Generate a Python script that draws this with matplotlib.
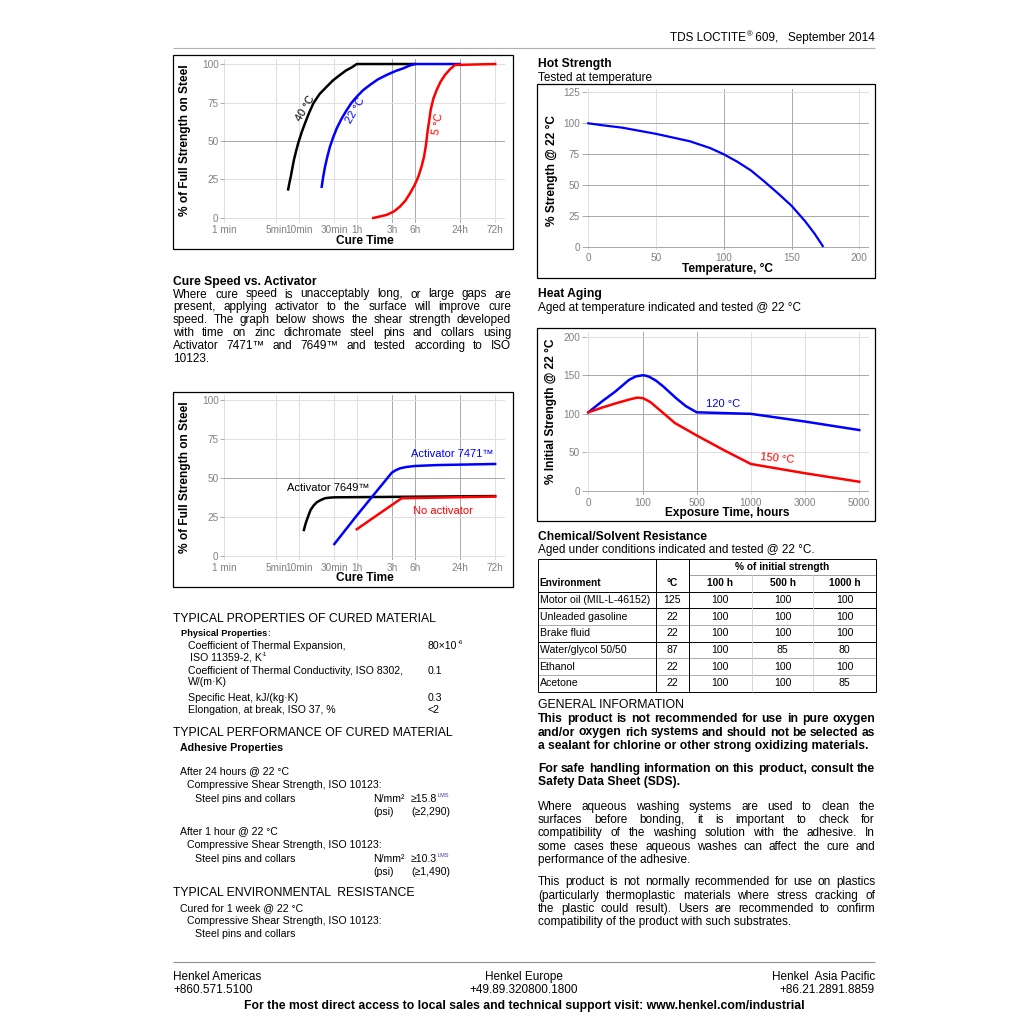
import numpy as np
import matplotlib
matplotlib.use('Agg')
import matplotlib.pyplot as plt
from matplotlib.patches import Rectangle

plt.rcParams['font.family'] = ['Liberation Sans', 'DejaVu Sans']

# ---------------- data ----------------
cure_ticks = [1, 5, 10, 30, 60, 180, 360, 1440, 4320]
cure_labels = ['1 min', '5min', '10min', '30min', '1h', '3h', '6h', '24h', '72h']
pct_ticks = [0, 25, 50, 75, 100]

# cure speed vs temperature (minutes, % strength)
t40 = [7.2, 7.5, 7.8, 8.2, 8.6, 9.2, 9.8, 10.9, 12.1, 13.8, 15.7, 19, 23.7, 29, 35.7, 43, 51.3, 60, 360]
s40 = [18.6, 23, 26.8, 32.5, 37.7, 43.5, 48.5, 55.5, 61.5, 68.5, 74.5, 80.5, 85.3, 89.5, 92.9, 95.8, 97.8, 100, 100]
t22 = [20.3, 21.3, 22.5, 24.2, 26.2, 29, 32.3, 37.5, 44, 51, 60, 73, 90, 115, 151, 200, 253, 300, 360, 1440]
s22 = [20.3, 27, 33.3, 40, 46.3, 52.5, 58.2, 64.5, 70.1, 74.8, 78.8, 83, 86.4, 90, 92.9, 95.5, 97.2, 98.8, 100, 100]
t5 = [100, 151, 190, 228, 270, 311, 360, 402, 445, 480, 510, 531, 560, 589, 640, 709, 800, 917, 1080, 1250, 4320]
s5 = [0, 2, 4.3, 7.4, 11.3, 16, 21.5, 26.8, 33.5, 39.8, 47.5, 55, 62.5, 70.1, 77.5, 83.1, 88.5, 92.9, 96.8, 99.4, 100]

# cure speed vs activator
t7649 = [11.7, 12.2, 12.8, 13.6, 14.4, 15.8, 17.4, 19.8, 22.5, 26, 30, 4320]
s7649 = [16.5, 19.8, 22.9, 26.3, 29.4, 32.2, 34.3, 35.8, 36.9, 37.3, 37.5, 38.3]
t7471 = [30, 60, 177, 200, 228, 280, 360, 709, 4320]
s7471 = [7.5, 25.8, 53.3, 54.9, 56.1, 57, 57.6, 58.2, 58.9]
t_none = [60, 240, 4320]
s_none = [17, 36.9, 38]

# hot strength
hot_temp = [0, 10, 25, 50, 75, 90, 100, 110, 120, 130, 140, 150, 160, 167, 173]
hot_pct = [100, 98.5, 96.5, 91.5, 85.5, 80, 75, 69, 62, 53, 43.5, 33.5, 21, 11, 1]
hot_ticks = [0, 50, 100, 150, 200]
hot_yticks = [0, 25, 50, 75, 100, 125]

# heat aging (hours, % initial strength)
age_ticks = [0, 100, 500, 1000, 3000, 5000]
age_yticks = [0, 50, 100, 150, 200]
h120 = [0, 25, 50, 75, 87.5, 100, 125, 150, 200, 250, 350, 420, 500, 1000, 3000, 5000]
s120 = [102, 116, 129, 144, 148.5, 150, 149.5, 148, 143, 136, 120, 110, 102, 100, 90, 79]
h150 = [0, 25, 50, 75, 90, 100, 130, 160, 220, 340, 500, 750, 1000, 3000, 5000]
s150 = [102, 108, 113.5, 118.5, 121, 120.5, 118, 115, 106, 88, 72, 53, 35, 23, 12]

# chemical / solvent resistance table
env = ['Motor oil (MIL-L-46152)', 'Unleaded gasoline', 'Brake fluid',
       'Water/glycol 50/50', 'Ethanol', 'Acetone']
env_temp = [125, 22, 22, 87, 22, 22]
r100 = [100, 100, 100, 100, 100, 100]
r500 = [100, 100, 100, 85, 100, 100]
r1000 = [100, 100, 100, 80, 100, 85]

# ---------------- page ----------------
fig = plt.figure(figsize=(10.24, 10.24), dpi=100)
page = fig.add_axes([0, 0, 1, 1])
page.set_xlim(0, 1024)
page.set_ylim(1024, 0)
page.axis('off')
R = fig.canvas.get_renderer()

GREY = '#808080'
B = 8.5  # body text size


def axpx(x0, y0, x1, y1):
    return fig.add_axes([x0 / 1024, 1 - y1 / 1024, (x1 - x0) / 1024, (y1 - y0) / 1024])


def hline(x0, x1, y, color='black', lw=0.7):
    page.plot([x0, x1], [y, y], color=color, lw=lw, solid_capstyle='butt')


def vline(x, y0, y1, color='black', lw=0.7):
    page.plot([x, x], [y0, y1], color=color, lw=lw, solid_capstyle='butt')


def txt(x, y, s, size=B, weight='normal', color='black', ha='left'):
    return page.text(x, y, s, fontsize=size, fontweight=weight, color=color, ha=ha, va='center')


def jline(x0, x1, y, s, size=B, weight='normal'):
    words = s.split()
    ts = [page.text(x0, y, w, fontsize=size, fontweight=weight, va='center') for w in words]
    ws = [t.get_window_extent(renderer=R).width for t in ts]
    gap = (x1 - x0 - sum(ws)) / (len(ws) - 1)
    x = x0
    for t, w in zip(ts, ws):
        t.set_x(x)
        x += w + gap


def runs(x, y, parts, ha='left'):
    # parts: (text, size, weight, color, dy)
    ts = []
    for s, size, weight, color, dy in parts:
        ts.append(page.text(0, y + dy, s, fontsize=size, fontweight=weight, color=color, va='center'))
    ws = [t.get_window_extent(renderer=R).width for t in ts]
    if ha == 'right':
        x -= sum(ws)
    elif ha == 'center':
        x -= sum(ws) / 2
    for t, w in zip(ts, ws):
        t.set_x(x)
        x += w


def style(ax, xt, xl, yt, darkx=(), darky=()):
    ax.set_xticks(xt, xl)
    ax.minorticks_off()
    ax.set_yticks(yt)
    for s in ax.spines.values():
        s.set_visible(False)
    ax.patch.set_alpha(0)
    ax.tick_params(axis='x', length=0, pad=1.8, labelsize=7.2, labelcolor=GREY)
    ax.tick_params(axis='y', length=3, width=0.6, color='#a0a0a0', pad=1,
                   labelsize=7.2, labelcolor=GREY)
    for v in xt:
        ax.axvline(v, color='#a8a8a8' if v in darkx else '#dedede', lw=0.7, zorder=0)
    for v in yt:
        ax.axhline(v, color='#a8a8a8' if v in darky else '#dedede', lw=0.7, zorder=0)


def labels(ax, xl, yl, xc, yc):
    ax.set_xlabel(xl, fontsize=8.6, fontweight='bold')
    ax.set_ylabel(yl, fontsize=8.6, fontweight='bold')
    ax.xaxis.set_label_coords(0.5, xc)
    ax.yaxis.set_label_coords(yc[0], yc[1])
    ax.xaxis.label.set_va('center')
    ax.yaxis.label.set_va('center')


# header
runs(875, 38, [('TDS LOCTITE', B, 'normal', 'black', 0),
               ('®', 5.5, 'normal', 'black', -3),
               (' 609,   September 2014', B, 'normal', 'black', 0)], ha='right')
hline(173, 875, 48, color='#b0b0b0', lw=0.8)

# chart boxes
for x0, y0, x1, y1 in [(173, 55, 513, 249), (173, 392, 513, 587),
                       (537, 84, 875, 278), (537, 328, 875, 521)]:
    page.add_patch(Rectangle((x0, y0), x1 - x0, y1 - y0, fill=False, ec='black', lw=0.9))

# ---- chart 1: cure speed vs temperature ----
ax1 = axpx(224.3, 59.4, 505, 222.6)
ax1.set_xscale('log')
ax1.plot(t40, s40, color='black', lw=1.8)
ax1.plot(t22, s22, color='#0000ff', lw=1.8)
ax1.plot(t5, s5, color='#ff0000', lw=1.8)
ax1.set_xlim(1, 5860)
ax1.set_ylim(-3, 103)
style(ax1, cure_ticks, cure_labels, pct_ticks, darkx=(180, 360, 1440), darky=(50,))
labels(ax1, 'Cure Time', '% of Full Strength on Steel', -0.112, (-0.14, 0.506))
ax1.text(12.1, 71.2, '40 °C', rotation=60, ha='center', va='center', fontsize=8)
ax1.text(57, 70.1, '22 °C', rotation=60, ha='center', va='center', fontsize=8, color='#0000ff')
ax1.text(746, 61.5, '5 °C', rotation=80, ha='center', va='center', fontsize=8, color='#ff0000')

# ---- text: cure speed vs activator ----
txt(173, 281.5, 'Cure Speed vs. Activator', size=8.7, weight='bold')
para1 = ['Where cure speed is unacceptably long, or large gaps are',
         'present, applying activator to the surface will improve cure',
         'speed. The graph below shows the shear strength developed',
         'with time on zinc dichromate steel pins and collars using',
         'Activator 7471™ and 7649™ and tested according to ISO']
for i, s in enumerate(para1):
    jline(173, 511, 294.5 + i * 12.8, s)
txt(173, 294.5 + 5 * 12.8, '10123.')

# ---- chart 2: cure speed vs activator ----
ax2 = axpx(224.3, 395.3, 505, 560.4)
ax2.set_xscale('log')
ax2.plot(t7649, s7649, color='black', lw=1.8)
ax2.plot(t7471, s7471, color='#0000ff', lw=1.8)
ax2.plot(t_none, s_none, color='#ff0000', lw=1.8)
ax2.set_xlim(1, 5860)
ax2.set_ylim(-3, 103)
style(ax2, cure_ticks, cure_labels, pct_ticks, darkx=(180, 360, 1440), darky=(50,))
labels(ax2, 'Cure Time', '% of Full Strength on Steel', -0.106, (-0.14, 0.507))
ax2.text(318, 65.3, 'Activator 7471™', color='#0000ff', fontsize=8, va='center')
ax2.text(6.95, 43.5, 'Activator 7649™', color='black', fontsize=8, va='center')
ax2.text(341, 28.9, 'No activator', color='#ff0000', fontsize=8, va='center')

# ---- chart 3: hot strength ----
txt(538, 63.5, 'Hot Strength', size=8.7, weight='bold')
txt(538, 77.5, 'Tested at temperature')
ax3 = axpx(585.6, 88.6, 868.8, 250.4)
ax3.plot(hot_temp, hot_pct, color='#0000ff', lw=1.6)
ax3.set_xlim(-2, 207)
ax3.set_ylim(-2.5, 128)
style(ax3, hot_ticks, [str(v) for v in hot_ticks], hot_yticks,
      darkx=(100, 150), darky=(0, 25, 50, 75, 100))
labels(ax3, 'Temperature, °C', '% Strength @ 22 °C', -0.115, (-0.12, 0.492))

# ---- chart 4: heat aging ----
txt(538, 294.5, 'Heat Aging', size=8.7, weight='bold')
txt(538, 308, 'Aged at temperature indicated and tested @ 22 °C')
ax4 = axpx(585.6, 331.7, 868.5, 495)
_hx = [-100, 0, 100, 500, 1000, 3000, 5000, 7000]
_ix = [-1, 0, 1, 2, 3, 4, 5, 6]
ax4.set_xscale('function', functions=(lambda v: np.interp(v, _hx, _ix),
                                      lambda v: np.interp(v, _ix, _hx)))
ax4.plot(h120, s120, color='#0000ff', lw=1.8)
ax4.plot(h150, s150, color='#ff0000', lw=1.8)
ax4.set_xlim(-5, 5340)
ax4.set_ylim(-5.2, 206.5)
style(ax4, age_ticks, [str(v) for v in age_ticks], age_yticks,
      darkx=(100, 500), darky=(0, 100, 150))
labels(ax4, 'Exposure Time, hours', '% Initial Strength @ 22 °C', -0.112, (-0.123, 0.511))
ax4.text(742, 112.8, '120 °C', color='#0000ff', fontsize=8, ha='center', va='center')
ax4.text(1980, 41.5, '150 °C', color='#ff0000', fontsize=8, ha='center', va='center', rotation=-5)

# ---- table ----
txt(538, 537.5, 'Chemical/Solvent Resistance', size=8.7, weight='bold')
txt(538, 550.5, 'Aged under conditions indicated and tested @ 22 °C.')
cx = [538, 655.7, 689, 751.7, 813.3, 875.7]
ry = [559, 575, 592, 608, 625, 641.5, 658, 675, 691.5]
hline(cx[0], cx[-1], ry[0])
hline(cx[2], cx[-1], ry[1], color='#909090', lw=0.6)
for k, y in enumerate(ry[2:]):
    dark = k in (0, 1, 3, 6)
    hline(cx[0], cx[-1], y, color='black' if dark else '#a0a0a0', lw=0.7 if dark else 0.6)
for x in (cx[0], cx[1], cx[2], cx[5]):
    vline(x, ry[0], ry[-1])
for x in (cx[3], cx[4]):
    vline(x, ry[1], ry[-1], color='#d0d0d0', lw=0.6)
mid = lambda a, b: (a + b) / 2
txt(mid(cx[2], cx[5]), 567, '% of initial strength', size=7.3, weight='bold', ha='center')
txt(539.5, 583.2, 'Environment', size=7.3, weight='bold')
for k, s in enumerate(['°C', '100 h', '500 h', '1000 h']):
    txt(mid(cx[k + 1], cx[k + 2]), 583.2, s, size=7.3, weight='bold', ha='center')
for i in range(len(env)):
    y = mid(ry[i + 2], ry[i + 3])
    txt(539.5, y, env[i], size=7.6)
    for k, v in enumerate([env_temp[i], r100[i], r500[i], r1000[i]]):
        txt(mid(cx[k + 1], cx[k + 2]), y, str(v), size=7.6, ha='center')

# ---- typical properties (left) ----
P = 7.6
txt(173, 618.5, 'TYPICAL PROPERTIES OF CURED MATERIAL', size=8.8)
runs(181, 633.3, [('Physical Properties', 6.7, 'bold', 'black', 0), (':', 6.7, 'normal', 'black', 0)])
txt(188, 645.7, 'Coefficient of Thermal Expansion,', size=P)
runs(428, 645.7, [('80×10', P, 'normal', 'black', 0), ('-6', 4.3, 'normal', 'black', -3)])
runs(190, 657.3, [('ISO 11359-2, K', P, 'normal', 'black', 0), ('-1', 4.3, 'normal', 'black', -3)])
txt(188, 670.7, 'Coefficient of Thermal Conductivity, ISO 8302,', size=P)
txt(428, 670.7, '0.1', size=P)
txt(188, 682, 'W/(m·K)', size=P)
txt(188, 697.7, 'Specific Heat, kJ/(kg·K)', size=P)
txt(428, 697.7, '0.3', size=P)
txt(188, 710, 'Elongation, at break, ISO 37, %', size=P)
txt(428, 710, '<2', size=P)

txt(173, 733.5, 'TYPICAL PERFORMANCE OF CURED MATERIAL', size=8.8)
txt(180, 748.3, 'Adhesive Properties', size=7.7, weight='bold')
LMS = '#3a3aa0'
for y0, head, val, psi in [(770.7, 'After 24 hours @ 22 °C', '≥15.8', '(≥2,290)'),
                           (830.7, 'After 1 hour @ 22 °C', '≥10.3', '(≥1,490)')]:
    txt(180, y0, head, size=P)
    txt(187, y0 + 13.8, 'Compressive Shear Strength, ISO 10123:', size=P)
    txt(195, y0 + 27.8, 'Steel pins and collars', size=P)
    txt(373.3, y0 + 27.8, 'N/mm²', size=P)
    runs(411, y0 + 27.8, [(val, P, 'normal', 'black', 0), ('LMS', 4.0, 'normal', LMS, -3)])
    txt(373.3, y0 + 41.3, '(psi)', size=P)
    txt(411, y0 + 41.3, psi, size=P)

txt(173, 893.5, 'TYPICAL ENVIRONMENTAL  RESISTANCE', size=8.8)
txt(180, 907.7, 'Cured for 1 week @ 22 °C', size=P)
txt(187, 920.7, 'Compressive Shear Strength, ISO 10123:', size=P)
txt(195, 934, 'Steel pins and collars', size=P)

# ---- general information (right) ----
txt(538, 705, 'GENERAL INFORMATION', size=8.8)
bold1 = ['This product is not recommended for use in pure oxygen',
         'and/or oxygen rich systems and should not be selected as']
for i, s in enumerate(bold1):
    jline(538, 875, 719.3 + i * 13.2, s, size=8.7, weight='bold')
txt(538, 745.7, 'a sealant for chlorine or other strong oxidizing materials.', size=8.7, weight='bold')
jline(538, 875, 769, 'For safe handling information on this product, consult the', size=8.7, weight='bold')
txt(538, 782.3, 'Safety Data Sheet (SDS).', size=8.7, weight='bold')

para2 = ['Where aqueous washing systems are used to clean the',
         'surfaces before bonding, it is important to check for',
         'compatibility of the washing solution with the adhesive.  In',
         'some cases these aqueous washes can affect the cure and']
for i, s in enumerate(para2):
    jline(538, 875, 806.7 + i * 13.3, s)
txt(538, 806.7 + 4 * 13.3, 'performance of the adhesive.')
para3 = ['This product is not normally recommended for use on plastics',
         '(particularly thermoplastic materials where stress cracking of',
         'the plastic could result).  Users are recommended to confirm']
for i, s in enumerate(para3):
    jline(538, 875, 882.3 + i * 13.3, s)
txt(538, 882.3 + 3 * 13.3, 'compatibility of the product with such substrates.')

# ---- footer ----
hline(173, 875, 962, color='#909090', lw=0.8)
txt(173, 977, 'Henkel Americas')
txt(173, 990, '+860.571.5100')
txt(524, 977, 'Henkel Europe', ha='center')
txt(524, 990, '+49.89.320800.1800', ha='center')
txt(875, 977, 'Henkel  Asia Pacific', ha='right')
txt(875, 990, '+86.21.2891.8859', ha='right')
txt(524, 1006, 'For the most direct access to local sales and technical support visit: www.henkel.com/industrial',
    size=8.8, weight='bold', ha='center')

fig.savefig('out.png', dpi=100)
